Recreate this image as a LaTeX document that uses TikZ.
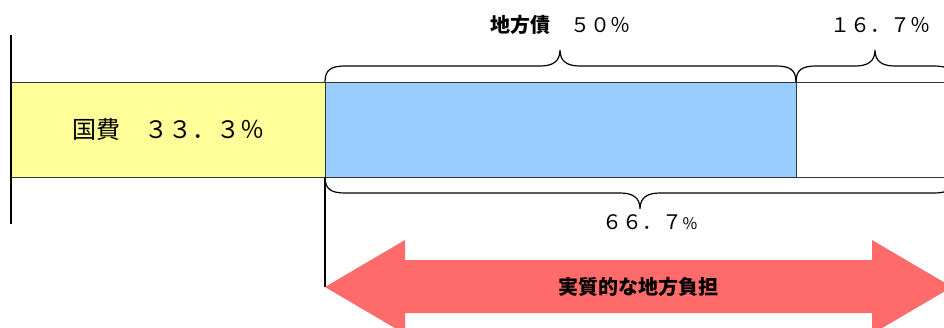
\documentclass[tikz,border=0pt]{standalone}
\usepackage{fontspec}
\setmainfont{Noto Sans CJK JP}
\usetikzlibrary{positioning}
\definecolor{kiiro}{HTML}{FFFF99}
\definecolor{ao}{HTML}{99CCFF}
\definecolor{aka}{HTML}{FF6A6A}
\newcommand\kakko[5]{\draw[kakkoline] (#1,#4) .. controls (#1,{#4+#5*12}) and ({#1+6},{#4+#5*16}) .. ({#1+20},{#4+#5*16})
  -- ({#3-20},{#4+#5*16}) .. controls ({#3-8},{#4+#5*16}) and (#3,{#4+#5*20}) .. (#3,{#4+#5*32})
  .. controls (#3,{#4+#5*20}) and ({#3+8},{#4+#5*16}) .. ({#3+20},{#4+#5*16})
  -- ({#2-20},{#4+#5*16}) .. controls ({#2-6},{#4+#5*16}) and (#2,{#4+#5*12}) .. (#2,#4);}
\begin{document}
\begin{tikzpicture}[x=1pt,y=-1pt,
  bar/.style = {draw=black!80, line width=0.8pt, minimum height=95pt, inner sep=0pt, outer sep=0pt},
  kakkoline/.style = {draw=black, line width=1.2pt},
  moji/.style = {font=\fontsize{20}{24}\selectfont, inner sep=0pt}]
\useasboundingbox (0,0) rectangle (944,327);
\clip (0,0) rectangle (944,327);
\node[bar, fill=kiiro, minimum width=314pt, anchor=west, font=\fontsize{24}{28}\selectfont] (kokuhi) at (11,129.5) {国費　３３．３％};
\node[bar, fill=ao, minimum width=471pt] (chihousai) [right=0pt of kokuhi] {};
\node[bar, fill=white, minimum width=160pt] (zan) [right=0pt of chihousai] {};
\draw[line width=2.4pt] (11,35) -- (11,224);
\kakko{325}{796}{560}{82}{-1}
\kakko{796}{954}{875}{82}{-1}
\kakko{325}{954}{640}{177}{1}
\node[moji] (sai) at (560,25) {\textbf{地方債}　５０％};
\node[moji] (nokori) at (880,25) {１６．７％};
\node[moji] (goukei) at (650,222) {６６．７\fontsize{16}{20}\selectfont\%};
\coordinate (hidari) at (325,287);
\draw[line width=1.4pt] (chihousai.south west) -- (hidari);
\fill[aka] (hidari) -- (405,240) -- (405,260) -- (872,260) -- (872,240) -- (952,287)
  -- (872,334) -- (872,313) -- (405,313) -- (405,334) -- cycle;
\node[moji] (futan) at (638,287) {\textbf{実質的な地方負担}};
\end{tikzpicture}
\end{document}
